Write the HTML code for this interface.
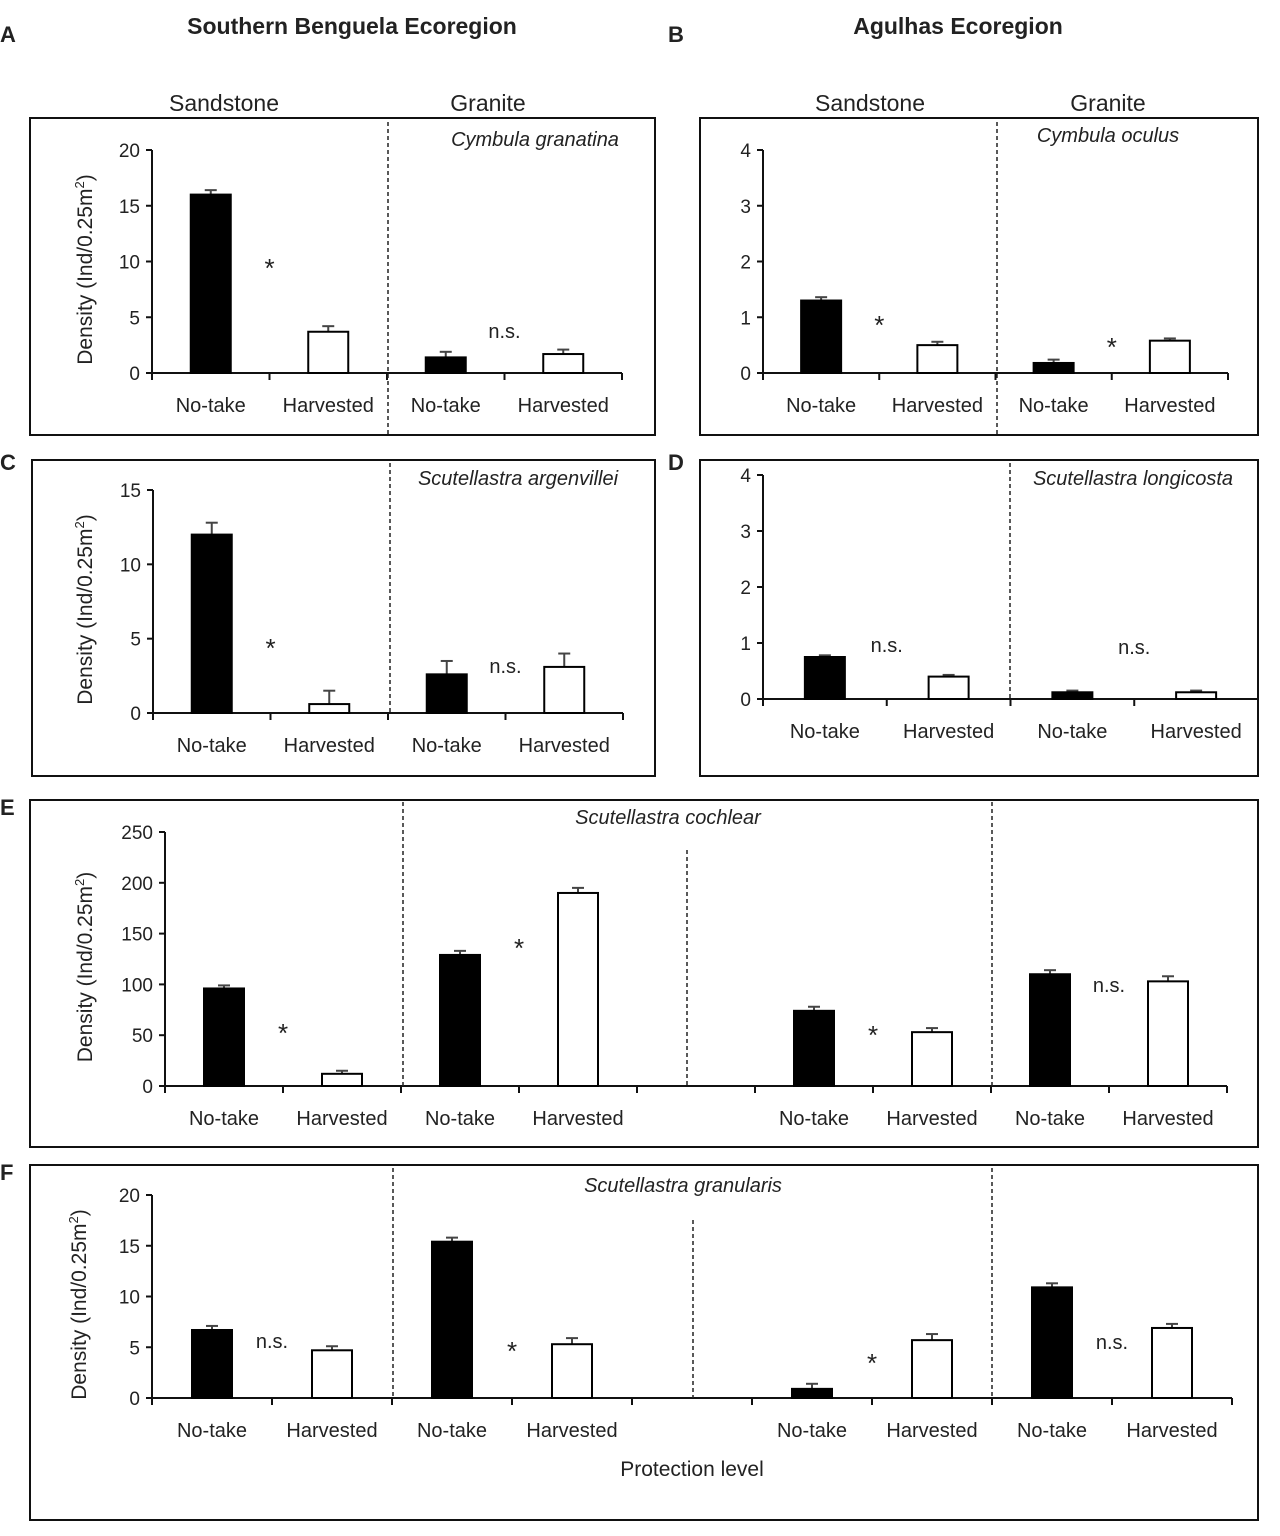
<!DOCTYPE html>
<html><head><meta charset="utf-8"><style>
body{margin:0;background:#fff;}
svg text{font-family:"Liberation Sans",sans-serif;fill:#222;}
</style></head><body>
<svg id="fig" width="1280" height="1531" viewBox="0 0 1280 1531" xmlns="http://www.w3.org/2000/svg">
<text x="0" y="42" font-size="22" font-weight="bold">A</text>
<text x="668" y="42" font-size="22" font-weight="bold">B</text>
<text x="0" y="470" font-size="22" font-weight="bold">C</text>
<text x="668" y="470" font-size="22" font-weight="bold">D</text>
<text x="0" y="815" font-size="22" font-weight="bold">E</text>
<text x="0" y="1180" font-size="22" font-weight="bold">F</text>
<text x="352" y="34" font-size="23" font-weight="bold" text-anchor="middle">Southern Benguela Ecoregion</text>
<text x="958" y="34" font-size="23" font-weight="bold" text-anchor="middle">Agulhas Ecoregion</text>
<text x="224" y="111" font-size="23" text-anchor="middle">Sandstone</text>
<text x="488" y="111" font-size="23" text-anchor="middle">Granite</text>
<text x="870" y="111" font-size="23" text-anchor="middle">Sandstone</text>
<text x="1108" y="111" font-size="23" text-anchor="middle">Granite</text>
<text x="692" y="1476" font-size="21" text-anchor="middle">Protection level</text>
<g id="panels"></g>
</svg>
<script>
// Panel data
const cats = ["No-take","Harvested","No-take","Harvested"];
const catsWide = ["No-take","Harvested","No-take","Harvested","No-take","Harvested","No-take","Harvested"];
const valsA = [16, 3.7, 1.4, 1.7];
const errA = [0.4, 0.5, 0.5, 0.4];
const ticksA = [0,5,10,15,20];
const valsB = [1.3, 0.5, 0.18, 0.58];
const errB = [0.06, 0.06, 0.06, 0.04];
const ticksB = [0,1,2,3,4];
const valsC = [12, 0.6, 2.6, 3.1];
const errC = [0.8, 0.9, 0.9, 0.9];
const ticksC = [0,5,10,15];
const valsD = [0.75, 0.4, 0.12, 0.12];
const errD = [0.03, 0.03, 0.03, 0.03];
const ticksD = [0,1,2,3,4];
const valsE = [96, 12, 129, 190, 74, 53, 110, 103];
const errE = [3, 3, 4, 5, 4, 4, 4, 5];
const ticksE = [0,50,100,150,200,250];
const valsF = [6.7, 4.7, 15.4, 5.3, 0.9, 5.7, 10.9, 6.9];
const errF = [0.4, 0.4, 0.4, 0.6, 0.5, 0.6, 0.4, 0.4];
const ticksF = [0,5,10,15,20];
const sigA = ["*","n.s."], sigB=["*","*"], sigC=["*","n.s."], sigD=["n.s.","n.s."];
const sigE = ["*","*","*","n.s."], sigF=["n.s.","*","*","n.s."];

const NS="http://www.w3.org/2000/svg";
const root=document.getElementById('panels');
function mk(tag,attrs,parent){const e=document.createElementNS(NS,tag);for(const k in attrs)e.setAttribute(k,attrs[k]);(parent||root).appendChild(e);return e;}

function panel(p){
  const g=mk('g',{});
  
  
  const box=mk('rect',{x:p.box[0],y:p.box[1],width:p.box[2]-p.box[0],height:p.box[3]-p.box[1],fill:'none',stroke:'#111','stroke-width':2},g);
  
  
  const maxT=p.ticks[p.ticks.length-1];
  const y=v=>p.y0-(v/maxT)*(p.y0-p.yTop);
  const n=p.vals.length;
  const nSlots=p.gap?n+1:n;
  const slot=i=>(p.gap && i>=n/2)?i+1:i;
  const step=(p.x1-p.x0)/nSlots;
  const x=i=>p.x0+step*(slot(i)+0.5);
  mk('line',{x1:p.x0,y1:p.yTop,x2:p.x0,y2:p.y0,stroke:'#111','stroke-width':2},g);
  p.ticks.forEach(t=>{
    mk('line',{x1:p.x0-6,y1:y(t),x2:p.x0,y2:y(t),stroke:'#111','stroke-width':2},g);
    const tt=mk('text',{x:p.x0-12,y:y(t)+7,'font-size':19,'text-anchor':'end'},g);
    tt.textContent=t;
    
    
  });
  mk('line',{x1:p.x0,y1:p.y0,x2:p.x1,y2:p.y0,stroke:'#111','stroke-width':2},g);
  for(let i=0;i<=nSlots;i++) mk('line',{x1:p.x0+step*i,y1:p.y0,x2:p.x0+step*i,y2:p.y0+7,stroke:'#111','stroke-width':2},g);
  p.dashes.forEach(d=>{mk('line',{x1:d[0],y1:d[1],x2:d[0],y2:d[2],stroke:'#222','stroke-width':1.5,'stroke-dasharray':'4,3'},g);});
  const bw=p.bw||40;
  p.vals.forEach((v,i)=>{
    const black=i%2===0;
    const ey=y(v+p.errs[i]);
    mk('line',{x1:x(i),y1:ey,x2:x(i),y2:y(v),stroke:'#444','stroke-width':2},g);
    mk('line',{x1:x(i)-6,y1:ey,x2:x(i)+6,y2:ey,stroke:'#444','stroke-width':2},g);
    const r=mk('rect',{x:x(i)-bw/2,y:y(v),width:bw,height:p.y0-y(v),fill:black?'#000':'#fff',stroke:'#000','stroke-width':2},g);
    
    
    const lt=mk('text',{x:x(i),y:p.y0+39,'font-size':20,'text-anchor':'middle'},g);
    lt.textContent=p.cats[i];
    
    
  });
  p.sig.forEach((s,k)=>{
    const i=k*2;
    const st=mk('text',{x:(x(i)+x(i+1))/2,y:p.sigY[k],'font-size':s==='*'?26:20,'text-anchor':'middle'},g);
    st.textContent=s;
    
    
  });
  const sp=mk('text',{x:p.sp[0],y:p.sp[1],'font-size':20,'font-style':'italic','text-anchor':'middle'},g);
  sp.textContent=p.species;
  
  
  if(p.ytX){
    const yt=mk('text',{x:0,y:0,'font-size':21,'text-anchor':'middle',transform:`translate(${p.ytX},${(p.y0+p.yTop)/2+8}) rotate(-90)`},g);
    yt.innerHTML='Density (Ind/0.2<tspan>5m</tspan><tspan dy="-8" font-size="13">2</tspan><tspan dy="8">)</tspan>';
    
    
  }
}

panel({name:'panel-a',box:[30,118,655,435],x0:152,x1:622,y0:373,yTop:150,ticks:ticksA,vals:valsA,errs:errA,cats:cats,sig:sigA,sigY:[277,338],dashes:[[388,122,435]],species:'Cymbula granatina',sp:[535,146],ytX:92});
panel({name:'panel-b',box:[700,118,1258,435],x0:763,x1:1228,y0:373,yTop:150,ticks:ticksB,vals:valsB,errs:errB,cats:cats,sig:sigB,sigY:[334,356],dashes:[[997,122,435]],species:'Cymbula oculus',sp:[1108,142],ytX:0});
panel({name:'panel-c',box:[32,460,655,776],x0:153,x1:623,y0:713,yTop:490,ticks:ticksC,vals:valsC,errs:errC,cats:cats,sig:sigC,sigY:[657,673],dashes:[[390,463,713]],species:'Scutellastra argenvillei',sp:[518,485],ytX:92});
panel({name:'panel-d',box:[700,460,1258,776],x0:763,x1:1258,y0:699,yTop:475,ticks:ticksD,vals:valsD,errs:errD,cats:cats,sig:sigD,sigY:[652,654],dashes:[[1010,463,699]],species:'Scutellastra longicosta',sp:[1133,485],ytX:0});
panel({name:'panel-e',box:[30,800,1258,1147],x0:165,x1:1227,gap:true,y0:1086,yTop:832,ticks:ticksE,vals:valsE,errs:errE,cats:catsWide,sig:sigE,sigY:[1042,957,1044,992],dashes:[[403,802,1086],[687,850,1086],[992,802,1086]],species:'Scutellastra cochlear',sp:[668,824],ytX:92});
panel({name:'panel-f',box:[30,1165,1258,1520],x0:152,x1:1232,gap:true,y0:1398,yTop:1195,ticks:ticksF,vals:valsF,errs:errF,cats:catsWide,sig:sigF,sigY:[1348,1360,1372,1349],dashes:[[393,1168,1398],[693,1220,1398],[992,1168,1398]],species:'Scutellastra granularis',sp:[683,1192],ytX:86});
</script>
</body></html>
